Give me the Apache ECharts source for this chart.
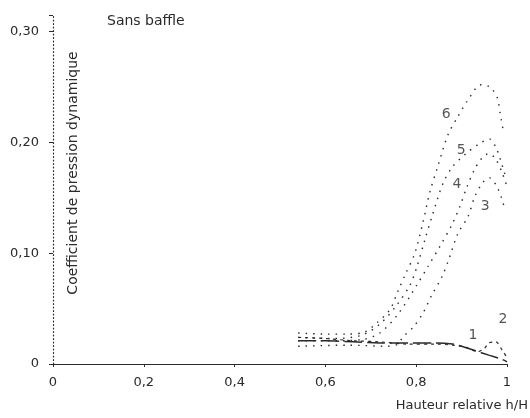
<!DOCTYPE html>
<html>
<head>
<meta charset="utf-8">
<script src="https://cdn.jsdelivr.net/npm/echarts@6/dist/echarts.min.js"></script>
<style>
  html, body { margin: 0; padding: 0; background: #fff; }
  #chart { width: 530px; height: 418px; }
</style>
</head>
<body>
<div id="chart"></div>
<script>
// h/H vs coefficient
const curve1 = [[0.54,0.021],[0.60,0.021],[0.66,0.020],[0.72,0.019],[0.78,0.019],[0.84,0.019],[0.88,0.018],[0.90,0.016],[0.93,0.012],[0.96,0.008],[0.99,0.004],[1.0,0.002]]
const curve2 = [[0.54,0.024],[0.60,0.023],[0.66,0.021],[0.72,0.020],[0.78,0.018],[0.84,0.018],[0.88,0.017],[0.91,0.015],[0.935,0.011],[0.95,0.014],[0.96,0.019],[0.975,0.020],[0.99,0.012],[1.0,0.006]]
const curve3 = [[0.54,0.016],[0.65,0.017],[0.74,0.016],[0.76,0.018],[0.77,0.024],[0.793,0.033],[0.815,0.046],[0.834,0.062],[0.857,0.079],[0.874,0.097],[0.892,0.118],[0.914,0.133],[0.929,0.151],[0.947,0.164],[0.962,0.168],[0.978,0.160],[0.988,0.150],[0.995,0.140]]
const curve4 = [[0.54,0.021],[0.62,0.021],[0.68,0.022],[0.72,0.028],[0.76,0.045],[0.801,0.071],[0.826,0.088],[0.852,0.106],[0.879,0.126],[0.896,0.142],[0.912,0.160],[0.929,0.176],[0.945,0.186],[0.96,0.19],[0.975,0.185],[0.99,0.172],[1.0,0.16]]
const curve5 = [[0.54,0.024],[0.62,0.023],[0.68,0.026],[0.72,0.036],[0.755,0.052],[0.786,0.071],[0.801,0.087],[0.819,0.112],[0.837,0.136],[0.859,0.163],[0.88,0.178],[0.91,0.19],[0.94,0.199],[0.962,0.203],[0.975,0.196],[0.985,0.185],[0.995,0.172],[1.0,0.168]]
const curve6 = [[0.54,0.028],[0.60,0.027],[0.65,0.027],[0.687,0.029],[0.713,0.037],[0.742,0.049],[0.76,0.066],[0.775,0.080],[0.797,0.100],[0.815,0.128],[0.830,0.155],[0.848,0.179],[0.870,0.207],[0.890,0.222],[0.912,0.237],[0.943,0.252],[0.962,0.250],[0.978,0.241],[0.985,0.226],[0.992,0.210]]

const curveNames = ['1', '2', '3', '4', '5', '6']
const namePos = [[0.925,0.026],[0.991,0.040],[0.952,0.142],[0.890,0.162],[0.899,0.193],[0.866,0.225]]

const fmtX = v => v === 0 ? '0' : v === 1 ? '1' : v.toFixed(1).replace('.', ',')
const fmtY = v => {
  if (Math.abs(v * 10 - Math.round(v * 10)) > 1e-6) return ''
  return v === 0 ? '0' : v.toFixed(2).replace('.', ',')
}

const ink = '#2a2a2a'
const font = 'DejaVu Sans'

function dotted (name, data) {
  return {
    name, type: 'line', data, smooth: 0.3, showSymbol: false, symbol: 'none',
    lineStyle: { color: ink, width: 1.4, type: [1.5, 6] }
  }
}

const chart = echarts.init(document.getElementById('chart'))
chart.setOption({
  animation: false,
  backgroundColor: '#fff',
  title: {
    text: 'Sans baffle', left: 102, top: 9,
    textStyle: { fontFamily: font, fontSize: 14, fontWeight: 'normal', color: ink }
  },
  grid: { left: 53, right: 23, top: 15, bottom: 54 },
  xAxis: {
    type: 'value', min: 0, max: 1, interval: 0.2,
    axisLine: { lineStyle: { color: ink, width: 1.2 } },
    axisTick: { show: true, length: 3, lineStyle: { color: ink } },
    axisLabel: { formatter: fmtX, margin: 12, fontFamily: font, fontSize: 13, color: ink },
    splitLine: { show: false }
  },
  yAxis: {
    type: 'value', min: 0, max: 0.315, interval: 0.1,
    axisLine: { show: true, lineStyle: { color: ink, width: 1.2, type: [1, 2.5] } },
    axisTick: { show: true, length: 4, lineStyle: { color: ink } },
    axisLabel: { formatter: fmtY, margin: 14, fontFamily: font, fontSize: 13, color: ink },
    splitLine: { show: false }
  },
  graphic: [
    {
      type: 'text', x: 73, y: 173, rotation: Math.PI / 2,
      style: { text: 'Coefficient de pression dynamique', fontFamily: font, fontSize: 14,
        fill: ink, align: 'center', verticalAlign: 'middle' }
    },
    {
      type: 'text', right: 2, top: 399,
      style: { text: 'Hauteur relative h/H', fontFamily: font, fontSize: 13, fill: ink }
    }
  ],
  series: [
    {
      name: '1', type: 'line', data: curve1, smooth: 0.3, symbol: 'none',
      lineStyle: { color: ink, width: 1.5, type: [18, 5] }
    },
    {
      name: '2', type: 'line', data: curve2, smooth: 0.3, symbol: 'none',
      lineStyle: { color: ink, width: 1.2, type: [3, 4] }
    },
    dotted('3', curve3),
    dotted('4', curve4),
    dotted('5', curve5),
    dotted('6', curve6),
    {
      type: 'scatter', symbolSize: 0, silent: true,
      data: namePos.map((p, i) => [p[0], p[1], curveNames[i]]),
      label: {
        show: true, position: 'inside', formatter: p => p.value[2],
        fontFamily: font, fontSize: 14, color: ink
      }
    }
  ]
})
</script>
</body>
</html>
